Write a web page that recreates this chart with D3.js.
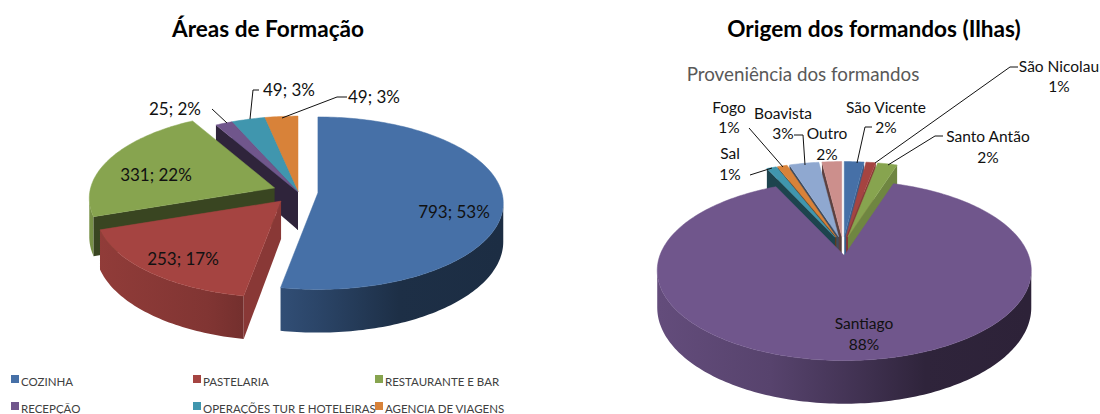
<!DOCTYPE html>
<html>
<head>
<meta charset="utf-8">
<script src="https://cdn.jsdelivr.net/npm/d3@7"></script>
<style>
  body { margin: 0; background: #fff; }
  text { font-family: Lato, "Open Sans", sans-serif; }
</style>
</head>
<body>
<div id="chart"></div>
<script>
// left chart
const areaNames = ["COZINHA", "PASTELARIA", "RESTAURANTE E BAR", "RECEPÇÃO", "OPERAÇÕES TUR E HOTELEIRAS", "AGENCIA DE VIAGENS"];
const areaValues = [793, 253, 331, 25, 49, 49];
const areaColors = ["#4670a7", "#a54441", "#87a44f", "#70568c", "#4096ae", "#d88239"];

// right chart
const islandNames = ["São Vicente", "São Nicolau", "Santo Antão", "Santiago", "Sal", "Fogo", "Boavista", "Outro"];
const islandValues = [2, 1, 2, 88, 1, 1, 3, 2];
const islandColors = ["#4670a7", "#a54441", "#87a44f", "#70568c", "#4096ae", "#d88239", "#8fa8d0", "#cc8f8c"];

const svg = d3.select("#chart").append("svg").attr("width", 1100).attr("height", 414);
const defs = svg.append("defs");
const line = d3.line();

function shade(color, k) {
  const c = d3.rgb(color);
  return d3.rgb(c.r * k, c.g * k, c.b * k).formatHex();
}

function drawPie(opts) {
  const g = svg.append("g");
  const { cx, cy, R, Rq, c, depth, explode, colors, id } = opts;
  const arcs = d3.pie().sort(null)(opts.values);

  // perspective of the tilted disc: the back shrinks, the front grows
  const scaleAt = (t) => 1 + c * Math.cos(t);
  const rimX = (t) => (R * Math.sin(t)) / scaleAt(t);
  const rimY = (t) => (-Rq * Math.cos(t)) / scaleAt(t);
  const drop = (t) => depth / scaleAt(t);

  // back slices first, Santiago / front slices end up on top
  const order = arcs
    .map((d, i) => {
      const mid = (d.startAngle + d.endAngle) / 2;
      const e = explode[i];
      return {
        i, mid,
        a0: d.startAngle,
        a1: d.endAngle,
        ax: cx + e * Math.sin(mid),
        ay: cy - e * (Rq / R) * Math.cos(mid),
      };
    })
    .sort((a, b) => Math.cos(b.mid) - Math.cos(a.mid));

  order.forEach((s) => {
    const color = colors[s.i];
    const sg = g.append("g");
    const steps = Math.max(2, Math.ceil((s.a1 - s.a0) / 0.02));
    const angles = d3.range(steps + 1).map((k) => s.a0 + ((s.a1 - s.a0) * k) / steps);
    const rimTop = angles.map((t) => [s.ax + rimX(t), s.ay + rimY(t)]);

    // curved outer wall, only the part that faces the viewer
    const front = angles.filter((t) => Math.cos(t) < -c + 0.02);
    if (front.length > 1) {
      const gradId = `${id}-rim-${s.i}`;
      const grad = defs.append("linearGradient")
        .attr("id", gradId)
        .attr("gradientUnits", "userSpaceOnUse")
        .attr("x1", s.ax - R).attr("x2", s.ax + R).attr("y1", 0).attr("y2", 0);
      [[0, 0.88], [0.3, 0.78], [0.5, 0.62], [0.72, 0.42], [1, 0.4]].forEach(([o, k]) => {
        grad.append("stop").attr("offset", o).attr("stop-color", shade(color, k));
      });
      const top = front.map((t) => [s.ax + rimX(t), s.ay + rimY(t)]);
      const bottom = front.map((t) => [s.ax + rimX(t), s.ay + rimY(t) + drop(t)]).reverse();
      sg.append("path").attr("d", line(top.concat(bottom)) + "Z").attr("fill", `url(#${gradId})`);
    }

    // flat cut faces, lit when they look to the right
    const cutFace = (t, normal) => {
      const k = Math.sin(normal) > 0.5 ? opts.lightFace : opts.darkFace;
      const pts = [
        [s.ax, s.ay],
        [s.ax + rimX(t), s.ay + rimY(t)],
        [s.ax + rimX(t), s.ay + rimY(t) + drop(t)],
        [s.ax, s.ay + depth],
      ];
      sg.append("path").attr("d", line(pts) + "Z").attr("fill", shade(color, k));
    };
    if (Math.sin(s.a0) < -0.001) cutFace(s.a0, s.a0 - Math.PI / 2);
    if (Math.sin(s.a1) > 0.001) cutFace(s.a1, s.a1 + Math.PI / 2);

    // top face
    sg.append("path")
      .attr("d", line([[s.ax, s.ay]].concat(rimTop)) + "Z")
      .attr("fill", color)
      .attr("stroke", color)
      .attr("stroke-width", 0.5);
  });
}

drawPie({
  id: "areas", values: areaValues, colors: areaColors,
  cx: 298, cy: 192, R: 184, Rq: 85, c: 0.12, depth: 38,
  explode: [20, 26, 25, 0, 0, 0], darkFace: 0.42, lightFace: 0.83,
});
drawPie({
  id: "ilhas", values: islandValues, colors: islandColors,
  cx: 843, cy: 246, R: 184.4, Rq: 87.5, c: 0.167, depth: 36,
  explode: [20, 20, 20, 20, 20, 20, 20, 20], darkFace: 0.45, lightFace: 0.82,
});

// leader lines
const leaders = [
  [[212, 109], [227, 123]],
  [[259, 90], [253, 90], [250, 119]],
  [[347, 97], [337, 97], [282, 118]],
  [[1018, 67], [1010, 67], [875, 163]],
  [[943, 136], [935, 136], [888, 165]],
  [[872, 127], [865, 127], [857, 163]],
  [[794, 135], [803, 135], [805, 165]],
  [[749, 128], [783, 167]],
  [[750, 175], [772, 168]],
];
svg.append("g").selectAll("path").data(leaders).join("path")
  .attr("d", (d) => line(d))
  .attr("fill", "none")
  .attr("stroke", "#111")
  .attr("stroke-width", 1);

// text labels
function addText(txt, x, y, size, opts = {}) {
  return svg.append("text")
    .attr("x", x).attr("y", y)
    .attr("text-anchor", opts.anchor || "middle")
    .attr("dominant-baseline", "central")
    .attr("font-size", size)
    .attr("font-weight", opts.weight || 400)
    .attr("fill", opts.fill || "#111")
    .text(txt);
}

addText("Áreas de Formação", 268, 28, 22.6, { weight: 700, fill: "#000" });
addText("Origem dos formandos (Ilhas)", 874, 28, 22.6, { weight: 700, fill: "#000" });
addText("Proveniência dos formandos", 803, 73, 18.8, { fill: "#595959" });

const areaTotal = d3.sum(areaValues);
const areaLabelPos = [[454, 211], [183, 258], [156, 174], [175, 108], [289, 89], [374, 96]];
areaValues.forEach((v, i) => {
  addText(`${v}; ${Math.round((v / areaTotal) * 100)}%`, areaLabelPos[i][0], areaLabelPos[i][1], 17);
});

const islandLabelPos = [
  [886, 107, 127], [1059, 66, 86], [988, 136, 157], [864, 323, 344],
  [730, 153, 174], [729, 107, 127], [783, 113, 133], [827, 133, 154],
];
islandValues.forEach((v, i) => {
  const [x, y1, y2] = islandLabelPos[i];
  addText(islandNames[i], x, y1, 15.5);
  addText(`${v}%`, x, y2, 15.5);
});

// legend
const legendX = [11, 193, 375];
const legendY = [381, 408];
areaNames.forEach((name, i) => {
  const x = legendX[i % 3];
  const y = legendY[Math.floor(i / 3)];
  svg.append("rect").attr("x", x).attr("y", y - 6).attr("width", 8).attr("height", 8).attr("fill", areaColors[i]);
  addText(name, x + 10, y, 11.5, { anchor: "start", fill: "#404040" });
});
</script>
</body>
</html>
